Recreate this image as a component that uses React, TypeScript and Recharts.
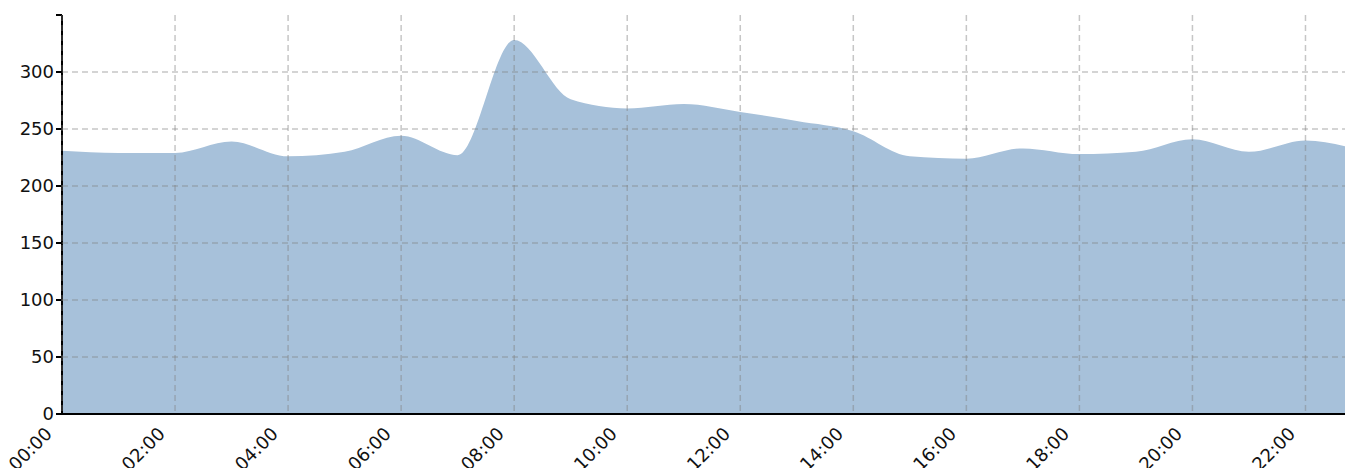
import { AreaChart, Area, XAxis, YAxis, CartesianGrid } from "recharts";

const hours = [0, 1, 2, 3, 4, 5, 6, 7, 8, 9, 10, 11, 12, 13, 14, 15, 16, 17, 18, 19, 20, 21, 22, 23];
const values = [231, 229, 229, 239, 226, 230, 244, 227, 328, 276, 268, 272, 265, 257, 248, 226, 224, 233, 228, 230, 241, 230, 240, 231];
const xTicks = [0, 2, 4, 6, 8, 10, 12, 14, 16, 18, 20, 22];
const yTicks = [0, 50, 100, 150, 200, 250, 300, 350];
const gridY = [50, 100, 150, 200, 250, 300];

const data = hours.map((h, i) => ({ hour: h, value: values[i] }));

const fmtHour = (h: number) => `${String(h).padStart(2, "0")}:00`;
const font = { fontFamily: "DejaVu Sans", fontSize: 18, fill: "#111" };

const XTick = (props: any) => {
  const { x, y, payload } = props;
  // anchor the end of the rotated label a little left of and below the tick
  const ax = x - 9;
  const ay = y + 13;
  return (
    <text x={ax} y={ay} transform={`rotate(-45, ${ax}, ${ay})`} textAnchor="end" style={font}>
      {fmtHour(payload.value)}
    </text>
  );
};

export default function App() {
  return (
    <div style={{ width: 1345, height: 460, overflow: "hidden" }}>
      <AreaChart width={1400} height={460} data={data} margin={{ top: 7, right: 46, left: 0, bottom: 0 }}>
        <XAxis
          dataKey="hour"
          type="number"
          domain={[0, 23]}
          ticks={xTicks}
          height={54}
          tick={<XTick />}
          tickLine={false}
          axisLine={{ stroke: "#000", strokeWidth: 2 }}
          interval={0}
        />
        <YAxis
          domain={[0, 350]}
          ticks={yTicks}
          width={54}
          tickFormatter={(v) => (v === 350 ? "" : String(v))}
          tick={font}
          tickSize={6}
          tickMargin={2}
          tickLine={{ stroke: "#000", strokeWidth: 2 }}
          axisLine={{ stroke: "#000", strokeWidth: 2 }}
          interval={0}
        />
        <Area
          type="monotone"
          dataKey="value"
          stroke="none"
          fill="#a7c1da"
          fillOpacity={1}
          isAnimationActive={false}
        />
        <CartesianGrid
          stroke="rgba(128,128,128,0.45)"
          strokeWidth={1.5}
          strokeDasharray="6 4"
          horizontalValues={gridY}
          verticalValues={xTicks}
          zIndex={500}
        />
      </AreaChart>
    </div>
  );
}
